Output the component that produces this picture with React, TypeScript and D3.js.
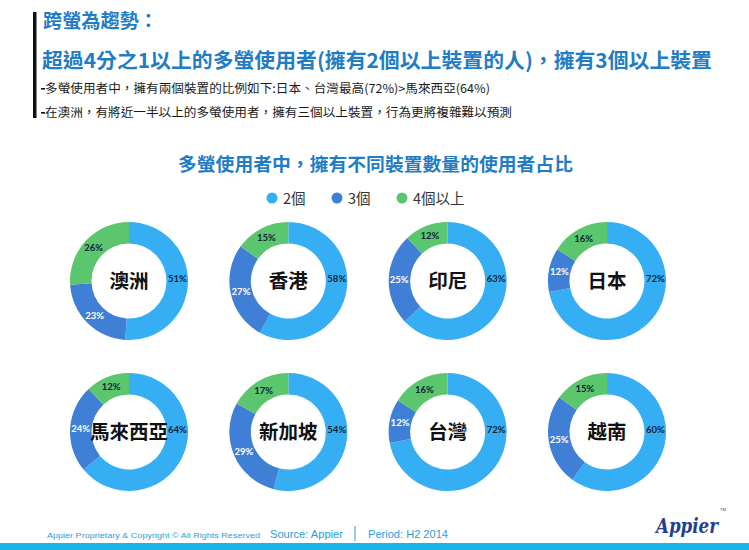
import React from "react";
import * as d3 from "d3";

const W = 749;
const H = 550;

const countries = ["澳洲", "香港", "印尼", "日本", "馬來西亞", "新加坡", "台灣", "越南"];
const twoDevices = [51, 58, 63, 72, 64, 54, 72, 60];
const threeDevices = [23, 27, 25, 12, 24, 29, 12, 25];
const fourPlus = [26, 15, 12, 16, 12, 17, 16, 15];
const seriesNames = ["2個", "3個", "4個以上"];
const seriesColors = ["#35AEF3", "#3F80D6", "#5CC66F"];
const labelColors = ["#0c2238", "#ffffff", "#0c2238"];

const headTitle = "跨螢為趨勢：";
const headLine = "超過4分之1以上的多螢使用者(擁有2個以上裝置的人)，擁有3個以上裝置";
const bullet1 = "多螢使用者中，擁有兩個裝置的比例如下:日本、台灣最高(72%)>馬來西亞(64%)";
const bullet2 = "在澳洲，有將近一半以上的多螢使用者，擁有三個以上裝置，行為更將複雜難以預測";
const chartTitle = "多螢使用者中，擁有不同裝置數量的使用者占比";

const CJK = "'Noto Sans CJK TC', 'Noto Sans CJK SC', sans-serif";
const BLUE = "#1F7DC6";

export default function App() {
  const xScale = d3.scalePoint<number>().domain([0, 1, 2, 3]).range([129, 607]);
  const yScale = d3.scalePoint<number>().domain([0, 1]).range([281, 432]);
  const outerR = 59;
  const innerR = 37.5;
  const labelR = 48.5;
  const arc = d3.arc<d3.PieArcDatum<number>>().innerRadius(innerR).outerRadius(outerR);
  const pie = d3.pie<number>().sort(null).value((d) => d);

  const legendX = [272, 337, 402];

  return (
    <svg width={W} height={H} style={{ position: "absolute", left: 0, top: 0, background: "#fff" }}>
      <rect x={0} y={0} width={W} height={H} fill="#ffffff" />
      {/* header */}
      <rect x={33} y={12} width={3.5} height={106} fill="#111" />
      <text x={43} y={28} fontFamily={CJK} fontWeight="bold" fontSize={19} fill={BLUE} textLength={115} lengthAdjust="spacingAndGlyphs">
        {headTitle}
      </text>
      <text x={42} y={68} fontFamily={CJK} fontWeight="bold" fontSize={20.5} fill={BLUE} textLength={670} lengthAdjust="spacingAndGlyphs">
        {headLine}
      </text>
      <rect x={41} y={88} width={4} height={1.6} fill="#111" />
      <text x={45} y={93} fontFamily={CJK} fontSize={12} fill="#1a1a1a" textLength={445} lengthAdjust="spacingAndGlyphs">
        {bullet1}
      </text>
      <rect x={41} y={112} width={4} height={1.6} fill="#111" />
      <text x={45} y={117} fontFamily={CJK} fontSize={12} fill="#1a1a1a" textLength={467} lengthAdjust="spacingAndGlyphs">
        {bullet2}
      </text>

      {/* chart title */}
      <text x={178} y={171} fontFamily={CJK} fontWeight="bold" fontSize={18.5} fill={BLUE} textLength={395} lengthAdjust="spacingAndGlyphs">
        {chartTitle}
      </text>
      {/* legend */}
      {seriesNames.map((s, i) => (
        <g key={s}>
          <circle cx={legendX[i]} cy={198} r={5.5} fill={seriesColors[i]} />
          <text x={legendX[i] + 11} y={203.5} fontFamily={CJK} fontSize={14.5} fill="#333">
            {s}
          </text>
        </g>
      ))}

      {/* donuts */}
      {countries.map((c, k) => {
        const cx = xScale(k % 4)!;
        const cy = yScale(Math.floor(k / 4))!;
        const vals = [twoDevices[k], threeDevices[k], fourPlus[k]];
        const arcs = pie(vals);
        return (
          <g key={c} transform={`translate(${cx},${cy})`}>
            {arcs.map((a, i) => (
              <path key={i} d={arc(a)!} fill={seriesColors[i]} />
            ))}
            {arcs.map((a, i) => {
              const ang = i === 0 ? Math.PI * 0.485 : (a.startAngle + a.endAngle) / 2;
              const lx = Math.sin(ang) * labelR;
              const ly = -Math.cos(ang) * labelR;
              return (
                <text
                  key={"l" + i}
                  x={lx}
                  y={ly + 3.3}
                  textAnchor="middle"
                  fontFamily="Lato, 'Open Sans', sans-serif"
                  fontWeight="bold"
                  fontSize={9.5}
                  fill={labelColors[i]}
                >
                  {vals[i]}%
                </text>
              );
            })}
            <text x={0} y={7} textAnchor="middle" fontFamily={CJK} fontWeight="bold" fontSize={19.5} fill="#111">
              {c}
            </text>
          </g>
        );
      })}

      {/* footer */}
      <text x={47} y={538} fontFamily="'Liberation Sans', Arial, sans-serif" fontSize={8} fill="#2A9ED8" textLength={213} lengthAdjust="spacingAndGlyphs">
        Appier Proprietary &amp; Copyright © All Rights Reserved
      </text>
      <text x={270} y={538} fontFamily="'Liberation Sans', Arial, sans-serif" fontSize={10.5} fill="#2A9ED8" textLength={73} lengthAdjust="spacingAndGlyphs">
        Source: Appier
      </text>
      <rect x={354.5} y={526} width={1} height={15} fill="#2A9ED8" />
      <text x={368} y={538} fontFamily="'Liberation Sans', Arial, sans-serif" fontSize={10.5} fill="#2A9ED8" textLength={80} lengthAdjust="spacingAndGlyphs">
        Period: H2 2014
      </text>
      <text x={656} y={533} fontFamily="'DejaVu Serif', serif" fontWeight="bold" fontStyle="italic" fontSize={21} fill="#23408E" textLength={62} lengthAdjust="spacingAndGlyphs">
        Appier
      </text>
      <text x={720} y={511} fontFamily="'Liberation Sans', Arial, sans-serif" fontSize={4} fill="#23408E">
        TM
      </text>
      <rect x={0} y={543} width={W} height={7} fill="#1AB6E9" />
    </svg>
  );
}
